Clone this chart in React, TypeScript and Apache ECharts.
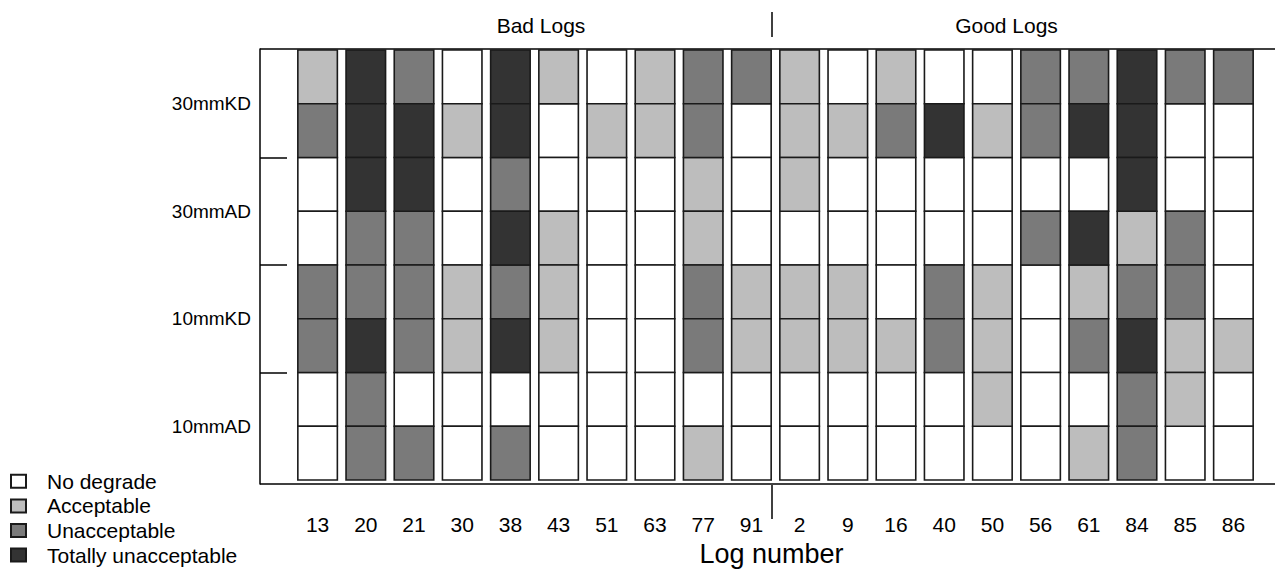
import React, { useEffect, useRef } from "react";
import * as echarts from "echarts";

// Log numbers (columns), bad logs first then good logs
const badLogs = ["13", "20", "21", "30", "38", "43", "51", "63", "77", "91"];
const goodLogs = ["2", "9", "16", "40", "50", "56", "61", "84", "85", "86"];
const logs = [...badLogs, ...goodLogs];

// Treatment groups from bottom to top
const treatments = ["10mmAD", "10mmKD", "30mmAD", "30mmKD"];

// Degrade classes
const classes = ["No degrade", "Acceptable", "Unacceptable", "Totally unacceptable"];
const classColors = ["#ffffff", "#bdbdbd", "#7a7a7a", "#333333"];

// Scores per row (0 = no degrade ... 3 = totally unacceptable), listed top to bottom
const kd30a = [1, 3, 2, 0, 3, 1, 0, 1, 2, 2, 1, 0, 1, 0, 0, 2, 2, 3, 2, 2];
const kd30b = [2, 3, 3, 1, 3, 0, 1, 1, 2, 0, 1, 1, 2, 3, 1, 2, 3, 3, 0, 0];
const ad30a = [0, 3, 3, 0, 2, 0, 0, 0, 1, 0, 1, 0, 0, 0, 0, 0, 0, 3, 0, 0];
const ad30b = [0, 2, 2, 0, 3, 1, 0, 0, 1, 0, 0, 0, 0, 0, 0, 2, 3, 1, 2, 0];
const kd10a = [2, 2, 2, 1, 2, 1, 0, 0, 2, 1, 1, 1, 0, 2, 1, 0, 1, 2, 2, 0];
const kd10b = [2, 3, 2, 1, 3, 1, 0, 0, 2, 1, 1, 1, 1, 2, 1, 0, 2, 3, 1, 1];
const ad10a = [0, 2, 0, 0, 0, 0, 0, 0, 0, 0, 0, 0, 0, 0, 1, 0, 0, 2, 1, 0];
const ad10b = [0, 2, 2, 0, 2, 0, 0, 0, 1, 0, 0, 0, 0, 0, 0, 0, 1, 2, 0, 0];

const rowsTopToBottom = [kd30a, kd30b, ad30a, ad30b, kd10a, kd10b, ad10a, ad10b];

const FONT = "'Liberation Sans', Arial, Helvetica, sans-serif";

export default function App() {
  const ref = useRef<HTMLDivElement>(null);

  useEffect(() => {
    if (!ref.current) return;
    const chart = echarts.init(ref.current, undefined, { renderer: "svg" });

    const nRows = rowsTopToBottom.length;
    const seriesData: number[][][] = classes.map(() => []);
    rowsTopToBottom.forEach((row, i) => {
      const r = nRows - 1 - i; // row index from bottom
      row.forEach((v, c) => {
        seriesData[v].push([c, r, v]);
      });
    });

    const renderItem = (params: any, api: any) => {
      const c = api.value(0);
      const r = api.value(1);
      const v = api.value(2);
      const top = api.coord([c, r + 1]);
      const bottom = api.coord([c, r]);
      const band = api.size([1, 0])[0];
      const w = band * 0.82;
      return {
        type: "rect",
        shape: { x: top[0] - w / 2, y: top[1], width: w, height: bottom[1] - top[1] },
        style: { fill: classColors[v], stroke: "#1a1a1a", lineWidth: 1.6 },
      };
    };

    const gridTop = 49;
    const gridBottomY = 484;
    const gridLeft = 293.5;
    const gridWidth = 964;

    chart.setOption({
      animation: false,
      textStyle: { fontFamily: FONT, color: "#000" },
      grid: {
        left: gridLeft,
        top: gridTop,
        width: gridWidth,
        height: gridBottomY - gridTop,
        containLabel: false,
        outerBoundsMode: "none",
      },
      legend: {
        orient: "vertical",
        left: 10,
        top: 470.8,
        padding: 0,
        itemWidth: 15,
        itemHeight: 13,
        itemGap: 3.6,
        icon: "rect",
        data: classes,
        textStyle: { fontSize: 21, lineHeight: 21, color: "#000", fontFamily: FONT, padding: [0, 0, 0, 16] },
        selectedMode: false,
      },
      xAxis: {
        type: "category",
        data: logs,
        axisLine: { show: false },
        axisTick: { show: false },
        axisLabel: { fontSize: 21, color: "#000", margin: 30, fontFamily: FONT },
        name: "Log number",
        nameLocation: "middle",
        nameGap: 56,
        nameTextStyle: { fontSize: 27, color: "#000", fontFamily: FONT, padding: [0, 8, 0, 0] },
        splitLine: { show: false },
      },
      yAxis: {
        type: "value",
        min: -4 / 53.75,
        max: 8 + 1 / 53.75,
        offset: gridLeft - 260,
        axisLine: { show: true, lineStyle: { color: "#000", width: 1.5 } },
        axisTick: {
          show: true,
          inside: true,
          length: 27,
          customValues: [2, 4, 6],
          lineStyle: { color: "#000", width: 1.5 },
        },
        axisLabel: {
          customValues: [1, 3, 5, 7],
          formatter: (val: number) => treatments[Math.round((val - 1) / 2)] ?? "",
          fontSize: 19,
          color: "#000",
          margin: 9,
          fontFamily: FONT,
        },
        splitLine: { show: false },
      },
      series: classes.map((name, k) => ({
        type: "custom",
        name,
        renderItem,
        data: seriesData[k],
        itemStyle: { color: classColors[k], borderColor: "#1a1a1a", borderWidth: 1.2 },
        encode: { x: 0, y: 1 },
      })),
      graphic: [
        { type: "line", shape: { x1: 260, y1: gridTop, x2: 1275, y2: gridTop }, style: { stroke: "#000", lineWidth: 1.5 } },
        { type: "line", shape: { x1: 260, y1: gridBottomY, x2: 1275, y2: gridBottomY }, style: { stroke: "#000", lineWidth: 1.5 } },
        { type: "line", shape: { x1: 772, y1: 12, x2: 772, y2: 37 }, style: { stroke: "#000", lineWidth: 1.5 } },
        { type: "line", shape: { x1: 772, y1: 485, x2: 772, y2: 519 }, style: { stroke: "#000", lineWidth: 1.5 } },
        {
          type: "text",
          x: 541,
          y: 25,
          style: { text: "Bad Logs", fontSize: 21, fontFamily: FONT, fill: "#000", align: "center", verticalAlign: "middle" },
        },
        {
          type: "text",
          x: 1006.5,
          y: 25,
          style: { text: "Good Logs", fontSize: 21, fontFamily: FONT, fill: "#000", align: "center", verticalAlign: "middle" },
        },
      ],
    });

    return () => chart.dispose();
  }, []);

  return (
    <div
      ref={ref}
      style={{ position: "fixed", left: 0, top: 0, width: 1275, height: 569, background: "#fff" }}
    />
  );
}
